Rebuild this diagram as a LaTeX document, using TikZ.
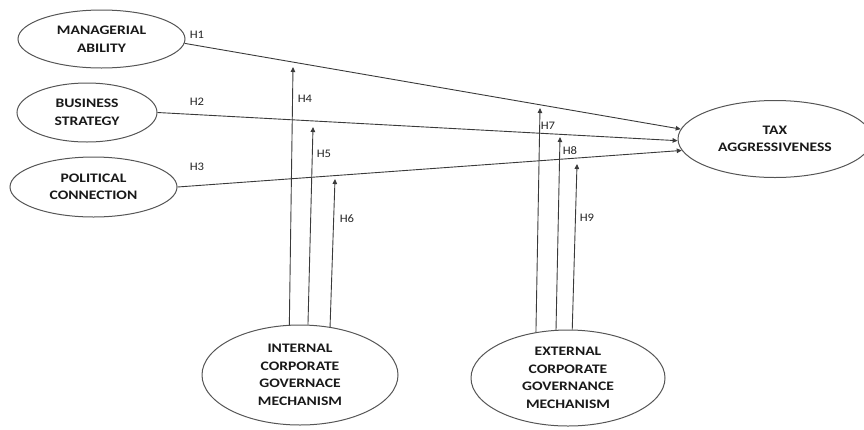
\documentclass[tikz,border=0pt]{standalone}
\usepackage{fontspec}
\setmainfont{Carlito}
\newfontfamily\varfont[FakeStretch=1.2]{Carlito}
\newfontfamily\labfont[FakeStretch=1.1]{Carlito}
\usetikzlibrary{shapes.geometric,arrows.meta}
\definecolor{lc}{HTML}{3A3A3A}
\definecolor{ec}{HTML}{555555}
\tikzset{
  var/.style={ellipse, draw=ec, line width=1pt, inner sep=0pt, align=center,
    font=\varfont\bfseries\fontsize{13}{17.5}\selectfont, text=black!90},
  conn/.style={draw=lc, line width=0.9pt, -{Triangle[length=5pt,width=4.5pt]}},
  hl/.style={font=\labfont\fontsize{11.5}{12}\selectfont, text=black!85, inner sep=0pt}
}
\begin{document}
\begin{tikzpicture}[x=1pt,y=-1pt]
\useasboundingbox (0,0) rectangle (864,429);
\node[var, minimum width=167pt, minimum height=58pt] (mgr) at (101.5,39) {MANAGERIAL\\ABILITY};
\node[var, minimum width=140pt, minimum height=59pt] (bus) at (87,112.5) {BUSINESS\\STRATEGY};
\node[var, minimum width=167pt, minimum height=60pt] (pol) at (93.5,187) {POLITICAL\\CONNECTION};
\node[var, minimum width=194pt, minimum height=77pt] (tax) at (775,139) {TAX\\AGGRESSIVENESS};
\node[var, minimum width=196pt, minimum height=100pt] (int) at (300,375) {INTERNAL\\CORPORATE\\GOVERNACE\\MECHANISM};
\node[var, minimum width=194pt, minimum height=96pt] (ext) at (568,378) {EXTERNAL\\CORPORATE\\GOVERNANCE\\MECHANISM};

\draw[conn] (mgr.-3.5) -- (tax.174);
\draw[conn] (bus.east) -- (tax.181);
\draw[conn] (pol.east) -- (tax.187);

\coordinate (t4) at (293,67);
\coordinate (t5) at (313,127);
\coordinate (t6) at (335,179);
\coordinate (t7) at (540,108);
\coordinate (t8) at (560,137);
\coordinate (t9) at (577,164);
\draw[conn] (int.102.5) -- (t4);
\draw[conn] (int.81) -- (t5);
\draw[conn] (int.58) -- (t6);
\draw[conn] (ext.125) -- (t7);
\draw[conn] (ext.104) -- (t8);
\draw[conn] (ext.85) -- (t9);

\node[hl] (h1) at (197,35) {H1};
\node[hl] (h2) at (197,102) {H2};
\node[hl] (h3) at (197,167) {H3};
\node[hl] (h4) at (305,99) {H4};
\node[hl] (h5) at (324,154) {H5};
\node[hl] (h6) at (347,219) {H6};
\node[hl] (h7) at (548,126) {H7};
\node[hl] (h8) at (570,151) {H8};
\node[hl] (h9) at (587,218) {H9};
\end{tikzpicture}
\end{document}
